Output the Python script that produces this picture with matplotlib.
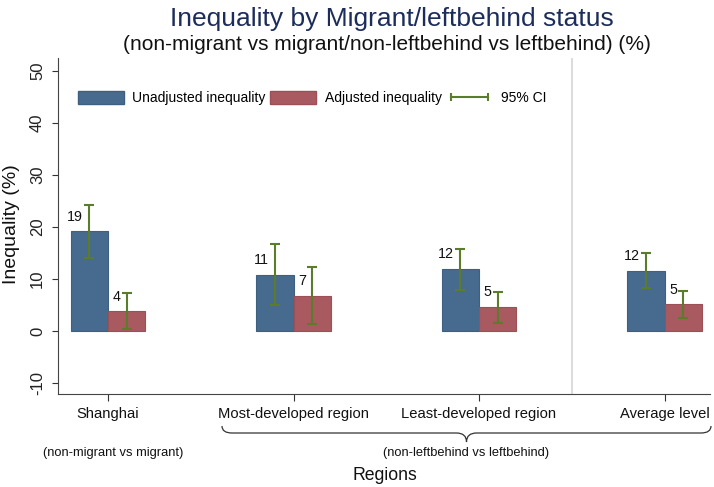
import matplotlib
matplotlib.use("Agg")
from matplotlib import pyplot as plt
from matplotlib.lines import Line2D
from matplotlib.patches import Patch, PathPatch
from matplotlib.path import Path
import numpy as np

plt.rcParams["font.family"] = ["Liberation Sans", "DejaVu Sans"]
plt.rcParams["axes.unicode_minus"] = False

regions = ["Shanghai", "Most-developed region", "Least-developed region", "Average level"]
comparisons = ["(non-migrant vs migrant)", "(non-leftbehind vs leftbehind)"]
unadjusted = [19.2, 10.8, 11.9, 11.6]
unadjusted_lo = [14.0, 4.9, 7.8, 8.3]
unadjusted_hi = [24.3, 16.8, 15.8, 14.9]
adjusted = [3.8, 6.7, 4.6, 5.1]
adjusted_lo = [0.3, 1.3, 1.5, 2.5]
adjusted_hi = [7.2, 12.2, 7.5, 7.7]

blue = "#476b8e"
red = "#a95a61"
green = "#5b7d2b"
W, H = 714, 487


def fx(px):
    return px / W


def fy(py):
    return 1 - py / H


fig = plt.figure(figsize=(7.14, 4.87), dpi=100)
ax = fig.add_axes([fx(58.3), fy(394.3), fx(710 - 58.3), (394.3 - 58) / H])

x = np.arange(len(regions))
bw = 0.2
ax.bar(x - bw / 2, unadjusted, bw, color=blue, edgecolor="#3d5f80", lw=0.8, zorder=2)
ax.bar(x + bw / 2, adjusted, bw, color=red, edgecolor="#9c4f57", lw=0.8, zorder=2)

for xs, v, lo, hi in [(x - bw / 2, unadjusted, unadjusted_lo, unadjusted_hi),
                      (x + bw / 2, adjusted, adjusted_lo, adjusted_hi)]:
    v, lo, hi = np.array(v), np.array(lo), np.array(hi)
    ax.errorbar(xs, v, yerr=[v - lo, hi - v], fmt="none", ecolor=green,
                elinewidth=1.5, capsize=3.5, capthick=1.5, zorder=3)
    for xi, vi in zip(xs, v):
        ax.annotate(f"{vi:.0f}", (xi, vi), xytext=(-4.5, 10.5), textcoords="offset points",
                    ha="right", va="center", fontsize=10.3, color="#111111")

ax.axvline(2.5, color="#d9d9d9", lw=1.3, zorder=1)

ax.set_xlim(-0.268, 3.245)
ax.set_ylim(-12.2, 52.5)
ax.set_yticks(range(-10, 51, 10))
ax.set_xticks(x)
ax.set_xticklabels(regions, fontsize=10.6)
ax.tick_params(axis="x", length=5, width=0.8, pad=4, colors="#333333", labelcolor="#111111")
ax.tick_params(axis="y", length=4.5, width=0.8, pad=5, labelrotation=90, labelsize=12,
               colors="#333333", labelcolor="#222222")
for lab in ax.get_yticklabels():
    lab.set_va("center")
for s in ["top", "right"]:
    ax.spines[s].set_visible(False)
for s in ["left", "bottom"]:
    ax.spines[s].set_color("#444444")
    ax.spines[s].set_linewidth(0.8)

handles = [Patch(facecolor=blue, edgecolor="#3d5f80", label="Unadjusted inequality"),
           Patch(facecolor=red, edgecolor="#9c4f57", label="Adjusted inequality"),
           Line2D([], [], color=green, lw=1.5, marker="|", markersize=6, mew=1.5, label="95% CI")]
fig.legend(handles=handles, ncol=3, frameon=False, fontsize=10, loc="center left",
           bbox_to_anchor=(fx(78), fy(98)), borderpad=0, borderaxespad=0,
           handlelength=3.3, handleheight=1.05, handletextpad=0.6, columnspacing=0.35,
           numpoints=2)

fig.text(fx(392), fy(19), "Inequality by Migrant/leftbehind status", ha="center", va="center",
         fontsize=19, color="#1c2d5c")
fig.text(fx(387), fy(45), "(non-migrant vs migrant/non-leftbehind vs leftbehind) (%)",
         ha="center", va="center", fontsize=15, color="#111111")
fig.text(fx(11.5), fy(224), "Inequality (%)", rotation=90, ha="center", va="center",
         fontsize=14, color="#111111")
fig.text(fx(385), fy(476), "Regions", ha="center", va="center", fontsize=12.7, color="#111111")
fig.text(fx(113), fy(453), comparisons[0], ha="center", va="center", fontsize=9.3, color="#111111")
fig.text(fx(466), fy(453), comparisons[1], ha="center", va="center", fontsize=9.3, color="#111111")

# curly brace under the three leftbehind groups
x0, x1, xm, yb, ye, yt = 222, 711, 466.5, 433, 426, 442
verts = [(x0, ye), (x0, yb), (x0 + 10, yb), (xm - 10, yb), (xm, yb), (xm, yt),
         (xm, yb), (xm + 10, yb), (x1 - 10, yb), (x1, yb), (x1, ye)]
codes = [Path.MOVETO, Path.CURVE3, Path.CURVE3, Path.LINETO, Path.CURVE3, Path.CURVE3,
         Path.CURVE3, Path.CURVE3, Path.LINETO, Path.CURVE3, Path.CURVE3]
verts = [(fx(a), fy(b)) for a, b in verts]
fig.add_artist(PathPatch(Path(verts, codes), fill=False, edgecolor="#333333", lw=0.9,
                         transform=fig.transFigure))

fig.savefig("out.png", dpi=100)
